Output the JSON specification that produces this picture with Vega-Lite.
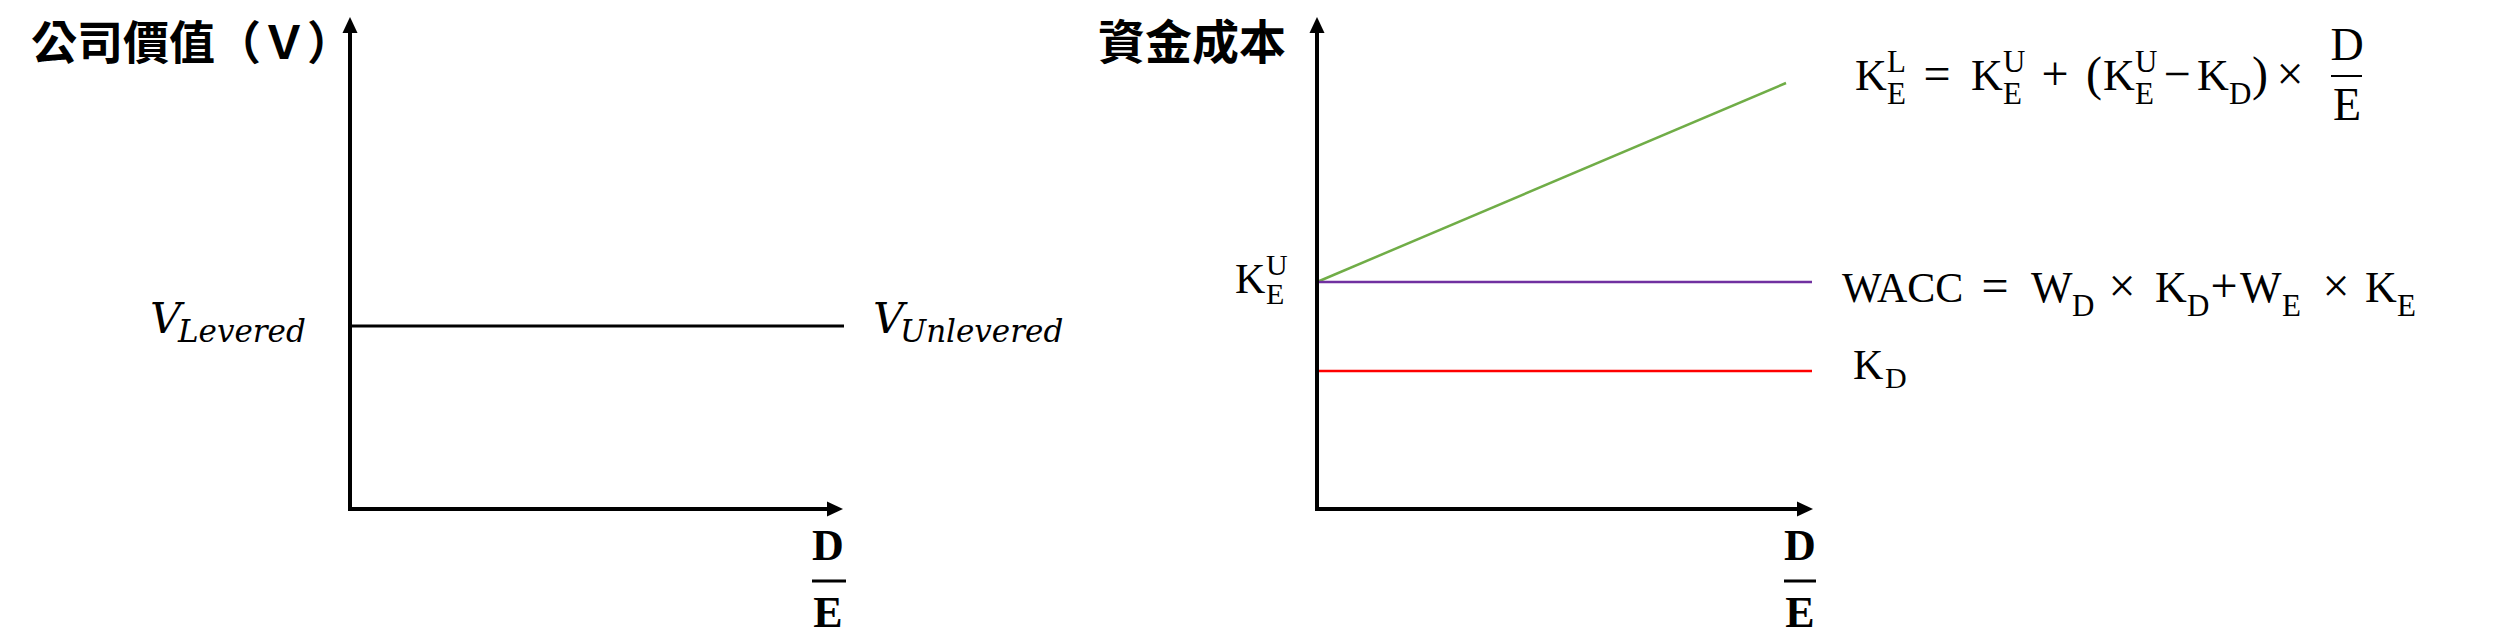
{
  "$schema": "https://vega.github.io/schema/vega-lite/v6.json",
  "background": "white",
  "padding": 0,
  "spacing": 0,
  "bounds": "flush",
  "config": {"view": {"stroke": null}},
  "hconcat": [
    {
      "width": 1080,
      "height": 637,
      "encoding": {
        "x": {"field": "x", "type": "quantitative", "scale": {"domain": [-0.7, 1.46], "nice": false, "zero": false}, "axis": null},
        "y": {"field": "y", "type": "quantitative", "scale": {"domain": [-0.256, 1.018], "nice": false, "zero": false}, "axis": null}
      },
      "layer": [
        {
          "data": {"values": [
            {"x": 0, "y": 0, "x2": 0, "y2": 0.962},
            {"x": 0, "y": 0, "x2": 0.962, "y2": 0}
          ]},
          "mark": {"type": "rule", "color": "black", "strokeWidth": 4, "strokeCap": "square"},
          "encoding": {"x2": {"field": "x2"}, "y2": {"field": "y2"}}
        },
        {
          "data": {"values": [
            {"x": 0, "y": 0.968, "dir": "up"},
            {"x": 0.97, "y": 0, "dir": "right"}
          ]},
          "mark": {"type": "point", "filled": true, "size": 256, "color": "black", "opacity": 1, "strokeWidth": 0},
          "encoding": {"shape": {"field": "dir", "type": "nominal", "scale": {"domain": ["up", "right"], "range": ["M0,-1L0.94,1L-0.94,1Z", "M1,0L-1,0.94L-1,-0.94Z"]}, "legend": null}}
        },
        {
          "data": {"values": [{"x": 0, "y": 0.366, "x2": 0.988}]},
          "mark": {"type": "rule", "color": "black", "strokeWidth": 3},
          "encoding": {"x2": {"field": "x2"}}
        },
        {
          "data": {"values": [{"x": -0.638, "y": 0.928, "t": "公司價值（Ｖ）"}]},
          "mark": {"type": "text", "font": "Noto Sans CJK TC", "fontWeight": "bold", "fontSize": 46, "align": "left", "baseline": "middle", "color": "black"},
          "encoding": {"text": {"field": "t"}}
        },
        {
          "data": {"values": [
            {"x": -0.4, "y": 0.352, "t": "V"},
            {"x": 1.046, "y": 0.352, "t": "V"}
          ]},
          "mark": {"type": "text", "font": "DejaVu Serif", "fontStyle": "italic", "fontSize": 43, "align": "left", "baseline": "alphabetic", "color": "black"},
          "encoding": {"text": {"field": "t"}}
        },
        {
          "data": {"values": [
            {"x": -0.344, "y": 0.334, "t": "Levered"},
            {"x": 1.1, "y": 0.334, "t": "Unlevered"}
          ]},
          "mark": {"type": "text", "font": "DejaVu Serif", "fontStyle": "italic", "fontSize": 31, "align": "left", "baseline": "alphabetic", "color": "black"},
          "encoding": {"text": {"field": "t"}}
        },
        {
          "data": {"values": [
            {"x": 0.956, "y": -0.102, "t": "D"},
            {"x": 0.956, "y": -0.236, "t": "E"}
          ]},
          "mark": {"type": "text", "font": "Liberation Serif", "fontWeight": "bold", "fontSize": 44, "align": "center", "baseline": "alphabetic", "color": "black"},
          "encoding": {"text": {"field": "t"}}
        },
        {
          "data": {"values": [{"x": 0.924, "y": -0.144, "x2": 0.992}]},
          "mark": {"type": "rule", "color": "black", "strokeWidth": 3},
          "encoding": {"x2": {"field": "x2"}}
        }
      ]
    },
    {
      "width": 1420,
      "height": 637,
      "encoding": {
        "x": {"field": "x", "type": "quantitative", "scale": {"domain": [-0.474, 2.366], "nice": false, "zero": false}, "axis": null},
        "y": {"field": "y", "type": "quantitative", "scale": {"domain": [-0.256, 1.018], "nice": false, "zero": false}, "axis": null}
      },
      "layer": [
        {
          "data": {"values": [
            {"x": 0, "y": 0.454, "x2": 0.938, "y2": 0.852, "s": "KEL"},
            {"x": 0, "y": 0.454, "x2": 0.99, "y2": 0.454, "s": "WACC"},
            {"x": 0, "y": 0.276, "x2": 0.99, "y2": 0.276, "s": "KD"}
          ]},
          "mark": {"type": "rule", "strokeWidth": 2.5},
          "encoding": {
            "x2": {"field": "x2"}, "y2": {"field": "y2"},
            "color": {"field": "s", "type": "nominal", "scale": {"domain": ["KEL", "WACC", "KD"], "range": ["#70AD47", "#7030A0", "#FF0000"]}, "legend": null}
          }
        },
        {
          "data": {"values": [
            {"x": 0, "y": 0, "x2": 0, "y2": 0.962},
            {"x": 0, "y": 0, "x2": 0.968, "y2": 0}
          ]},
          "mark": {"type": "rule", "color": "black", "strokeWidth": 4, "strokeCap": "square"},
          "encoding": {"x2": {"field": "x2"}, "y2": {"field": "y2"}}
        },
        {
          "data": {"values": [
            {"x": 0, "y": 0.968, "dir": "up"},
            {"x": 0.976, "y": 0, "dir": "right"}
          ]},
          "mark": {"type": "point", "filled": true, "size": 256, "color": "black", "opacity": 1, "strokeWidth": 0},
          "encoding": {"shape": {"field": "dir", "type": "nominal", "scale": {"domain": ["up", "right"], "range": ["M0,-1L0.94,1L-0.94,1Z", "M1,0L-1,0.94L-1,-0.94Z"]}, "legend": null}}
        },
        {
          "data": {"values": [
            {"x": 0.966, "y": -0.102, "t": "D"},
            {"x": 0.966, "y": -0.236, "t": "E"}
          ]},
          "mark": {"type": "text", "font": "Liberation Serif", "fontWeight": "bold", "fontSize": 44, "align": "center", "baseline": "alphabetic", "color": "black"},
          "encoding": {"text": {"field": "t"}}
        },
        {
          "data": {"values": [{"x": 0.934, "y": -0.144, "x2": 0.998}]},
          "mark": {"type": "rule", "color": "black", "strokeWidth": 3},
          "encoding": {"x2": {"field": "x2"}}
        },
        {
          "data": {"values": [{"x": -0.438, "y": 0.928, "t": "資金成本"}]},
          "mark": {"type": "text", "font": "Noto Sans CJK TC", "fontWeight": "bold", "fontSize": 47, "align": "left", "baseline": "middle", "color": "black"},
          "encoding": {"text": {"field": "t"}}
        },
        {
          "data": {"values": [
            {"x": -0.164, "y": 0.432, "t": "K"},
            {"x": 1.072, "y": 0.26, "t": "K"},
            {"x": 1.05, "y": 0.414, "t": "WACC"}
          ]},
          "mark": {"type": "text", "font": "Liberation Serif", "fontSize": 42, "align": "left", "baseline": "alphabetic", "color": "black"},
          "encoding": {"text": {"field": "t"}}
        },
        {
          "data": {"values": [
            {"x": -0.102, "y": 0.468, "t": "U"},
            {"x": -0.102, "y": 0.41, "t": "E"},
            {"x": 1.136, "y": 0.242, "t": "D"}
          ]},
          "mark": {"type": "text", "font": "Liberation Serif", "fontSize": 30, "align": "left", "baseline": "alphabetic", "color": "black"},
          "encoding": {"text": {"field": "t"}}
        },
        {
          "data": {"values": [
            {"x": 1.076, "y": 0.838, "t": "K"},
            {"x": 1.308, "y": 0.838, "t": "K"},
            {"x": 1.572, "y": 0.838, "t": "K"},
            {"x": 1.76, "y": 0.838, "t": "K"},
            {"x": 1.428, "y": 0.414, "t": "W"},
            {"x": 1.676, "y": 0.414, "t": "K"},
            {"x": 1.846, "y": 0.414, "t": "W"},
            {"x": 2.096, "y": 0.414, "t": "K"}
          ]},
          "mark": {"type": "text", "font": "Liberation Serif", "fontSize": 44, "align": "left", "baseline": "alphabetic", "color": "black"},
          "encoding": {"text": {"field": "t"}}
        },
        {
          "data": {"values": [
            {"x": 1.24, "y": 0.838, "t": "="},
            {"x": 1.476, "y": 0.838, "t": "+"},
            {"x": 1.554, "y": 0.838, "t": "("},
            {"x": 1.72, "y": 0.838, "t": "−"},
            {"x": 1.886, "y": 0.838, "t": ")"},
            {"x": 1.946, "y": 0.838, "t": "×"},
            {"x": 1.356, "y": 0.414, "t": "="},
            {"x": 1.61, "y": 0.414, "t": "×"},
            {"x": 1.814, "y": 0.414, "t": "+"},
            {"x": 2.038, "y": 0.414, "t": "×"}
          ]},
          "mark": {"type": "text", "font": "Liberation Serif", "fontSize": 48, "align": "center", "baseline": "alphabetic", "color": "black"},
          "encoding": {"text": {"field": "t"}}
        },
        {
          "data": {"values": [
            {"x": 2.06, "y": 0.898, "t": "D"},
            {"x": 2.06, "y": 0.778, "t": "E"}
          ]},
          "mark": {"type": "text", "font": "Liberation Serif", "fontSize": 46, "align": "center", "baseline": "alphabetic", "color": "black"},
          "encoding": {"text": {"field": "t"}}
        },
        {
          "data": {"values": [{"x": 2.028, "y": 0.866, "x2": 2.09}]},
          "mark": {"type": "rule", "color": "black", "strokeWidth": 2},
          "encoding": {"x2": {"field": "x2"}}
        },
        {
          "data": {"values": [
            {"x": 1.14, "y": 0.874, "t": "L"},
            {"x": 1.14, "y": 0.81, "t": "E"},
            {"x": 1.372, "y": 0.874, "t": "U"},
            {"x": 1.372, "y": 0.81, "t": "E"},
            {"x": 1.636, "y": 0.874, "t": "U"},
            {"x": 1.636, "y": 0.81, "t": "E"},
            {"x": 1.824, "y": 0.81, "t": "D"},
            {"x": 1.51, "y": 0.386, "t": "D"},
            {"x": 1.74, "y": 0.386, "t": "D"},
            {"x": 1.93, "y": 0.386, "t": "E"},
            {"x": 2.16, "y": 0.386, "t": "E"}
          ]},
          "mark": {"type": "text", "font": "Liberation Serif", "fontSize": 31, "align": "left", "baseline": "alphabetic", "color": "black"},
          "encoding": {"text": {"field": "t"}}
        }
      ]
    }
  ]
}
